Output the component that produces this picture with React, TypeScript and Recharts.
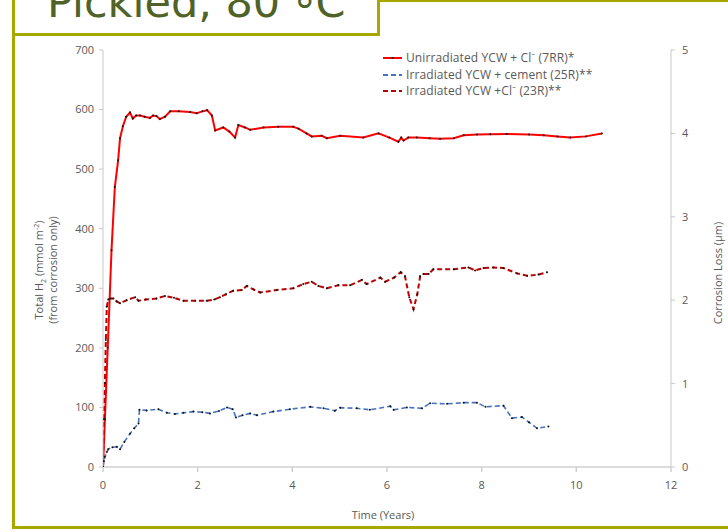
import React from 'react';
import { LineChart, Line, XAxis, YAxis, Legend } from 'recharts';

const FONT = '"Open Sans", Lato, sans-serif';
const GRAY = '#595959';
const OLIVE = '#a6a800';

const xTicks = [0, 2, 4, 6, 8, 10, 12];
const leftTicks = [0, 100, 200, 300, 400, 500, 600, 700];
const rightTicks = [0, 1, 2, 3, 4, 5];

// Unirradiated YCW + Cl- (7RR)*
const t7RR = [0, 0.04, 0.1, 0.18, 0.25, 0.32, 0.36, 0.42, 0.49, 0.57, 0.63, 0.7, 0.78, 0.88, 0.99, 1.06, 1.13, 1.2, 1.31, 1.42, 1.6, 1.84, 1.98, 2.1, 2.2, 2.3, 2.37, 2.54, 2.67, 2.79, 2.86, 3.0, 3.11, 3.39, 3.7, 4.02, 4.13, 4.3, 4.41, 4.62, 4.73, 5.01, 5.5, 5.82, 6.05, 6.24, 6.3, 6.35, 6.45, 6.63, 6.9, 7.12, 7.41, 7.62, 7.9, 8.18, 8.53, 9.0, 9.31, 9.6, 9.87, 10.2, 10.54];
const v7RR = [0, 80, 200, 364, 470, 515, 552, 572, 588, 595, 585, 590, 590, 588, 586, 590, 589, 584, 588, 597, 597, 596, 594, 597, 599, 590, 565, 570, 563, 553, 574, 570, 566, 570, 571, 571, 568, 560, 555, 556, 552, 556, 553, 560, 553, 546, 553, 548, 553, 553, 552, 551, 552, 557, 558, 558.5, 559, 558, 557, 555, 553, 555, 560];

// Irradiated YCW + cement (25R)**
const t25R = [0, 0.02, 0.04, 0.08, 0.11, 0.2, 0.29, 0.36, 0.45, 0.57, 0.66, 0.75, 0.77, 0.92, 1.17, 1.35, 1.52, 1.7, 1.91, 2.1, 2.26, 2.45, 2.62, 2.74, 2.81, 2.95, 3.11, 3.25, 3.6, 3.95, 4.38, 4.66, 4.9, 5.01, 5.36, 5.64, 6.07, 6.14, 6.42, 6.74, 6.91, 7.27, 7.62, 7.9, 8.08, 8.46, 8.64, 8.85, 9.0, 9.17, 9.41];
const v25R = [0, 10, 17, 25, 30, 33, 34, 30, 42, 56, 65, 73, 96, 95, 97, 91, 89, 91, 93, 92, 90, 94, 100, 97, 83, 87, 90, 87, 93, 97, 101, 98.5, 94.5, 99.6, 98.5, 96, 102, 96, 100, 98.5, 107, 106, 108, 108, 101, 103, 82, 84, 75, 65, 68];

// Irradiated YCW +Cl- (23R)**
const t23R = [0, 0.02, 0.04, 0.06, 0.08, 0.11, 0.16, 0.22, 0.29, 0.36, 0.5, 0.68, 0.75, 0.9, 1.13, 1.31, 1.5, 1.7, 1.95, 2.19, 2.35, 2.47, 2.6, 2.75, 2.93, 3.04, 3.18, 3.32, 3.67, 4.02, 4.23, 4.41, 4.55, 4.73, 4.97, 5.22, 5.47, 5.57, 5.86, 5.96, 6.15, 6.29, 6.38, 6.47, 6.56, 6.64, 6.7, 6.77, 6.88, 6.98, 7.41, 7.72, 7.86, 8.04, 8.25, 8.46, 8.75, 8.96, 9.2, 9.38];
const v23R = [0, 80, 141, 213, 269, 281, 283, 283, 278, 275, 280, 285, 279, 281, 283, 287, 284, 279, 279, 279, 281, 285, 290, 296, 297, 304, 298, 293, 297, 300, 307, 311, 304, 300, 305, 305, 314, 307, 318, 311, 318, 327, 320, 285, 265, 290, 320, 324, 324, 332, 332, 335, 330, 334, 335, 334, 325, 321, 323, 327];

const zip = (t: number[], v: number[]) => t.map((x, i) => ({ t: x, v: v[i] }));
const d7RR = zip(t7RR, v7RR);
const d25R = zip(t25R, v25R);
const d23R = zip(t23R, v23R);

const SERIES = [
  { key: '7RR', label: 'Unirradiated YCW + Cl\u207B (7RR)*', data: d7RR, color: '#ff0000', dash: undefined as string | undefined, width: 2 },
  { key: '25R', label: 'Irradiated YCW + cement (25R)**', data: d25R, color: '#4472c4', dash: '5 3', width: 1.6 },
  { key: '23R', label: 'Irradiated YCW +Cl\u207B (23R)**', data: d23R, color: '#c00000', dash: '5 3', width: 2 },
];

const dot = { r: 1, fill: '#111', stroke: 'none' };

const renderLegend = () => (
  <div style={{ fontFamily: FONT, fontSize: 12, letterSpacing: 0.1, color: GRAY, lineHeight: '16.5px' }}>
    {SERIES.map((s) => (
      <div key={s.key} style={{ display: 'flex', alignItems: 'center', height: 16.5 }}>
        <svg width={23} height={6} style={{ display: 'block', flex: 'none' }}>
          <line x1={0} y1={3} x2={19} y2={3} stroke={s.color} strokeWidth={2} strokeDasharray={s.dash} />
          {!s.dash && <circle cx={9.5} cy={3} r={1} fill="#111" />}
        </svg>
        <span style={{ whiteSpace: 'nowrap' }}>{s.label}</span>
      </div>
    ))}
  </div>
);

const tickStyle = { fill: GRAY, fontSize: 11, fontFamily: FONT };

export default function App() {
  return (
    <div style={{ position: 'absolute', left: 0, top: 0, width: 728, height: 532, overflow: 'hidden', background: '#fff' }}>
      {/* outer frame */}
      <div style={{ position: 'absolute', left: 12, top: -1, width: 800, height: 530, border: `3px solid ${OLIVE}`, boxSizing: 'border-box' }} />
      {/* title box */}
      <div style={{ position: 'absolute', left: 12, top: -30, width: 368, height: 66, border: `3px solid ${OLIVE}`, boxSizing: 'border-box', background: '#fff' }} />
      <div style={{ position: 'absolute', left: 0, top: 0 }}>
        <LineChart width={728} height={532} margin={{ top: 50, right: 27, bottom: 35, left: 63 }}>
          <XAxis
            type="number"
            dataKey="t"
            domain={[0, 12]}
            ticks={xTicks}
            allowDataOverflow
            height={30}
            tickSize={5}
            tickMargin={9}
            stroke="#d0d0d0"
            strokeWidth={1.5}
            tick={tickStyle}
          />
          <YAxis
            yAxisId="left"
            domain={[0, 700]}
            ticks={leftTicks}
            allowDataOverflow
            width={40}
            tickSize={4}
            tickMargin={5}
            stroke="#c8c8c8"
            tick={tickStyle}
          />
          <YAxis
            yAxisId="right"
            orientation="right"
            domain={[0, 5]}
            ticks={rightTicks}
            allowDataOverflow
            width={30}
            tickSize={4}
            tickMargin={7}
            stroke="#c8c8c8"
            tick={tickStyle}
          />
          <Legend
            layout="vertical"
            verticalAlign="middle"
            align="center"
            content={renderLegend}
            wrapperStyle={{ left: 383, top: 50, width: 260 }}
          />
          {SERIES.map((s) => (
            <Line
              key={s.key}
              yAxisId="left"
              data={s.data}
              dataKey="v"
              type="linear"
              stroke={s.color}
              strokeWidth={s.width}
              strokeDasharray={s.dash}
              dot={dot}
              activeDot={false}
              isAnimationActive={false}
            />
          ))}
        </LineChart>
      </div>
      <svg width={728} height={532} style={{ position: 'absolute', left: 0, top: 0, pointerEvents: 'none' }}>
        <text x={47} y={17} fontFamily="DejaVu Sans" fontSize={43} fill="#4f6228">
          Pickled, 80 <tspan dy={10}>°</tspan><tspan dy={-10}>C</tspan>
        </text>
        <g fontFamily={FONT} fontSize={11} fill={GRAY} textAnchor="middle">
          <text transform="translate(43,270) rotate(-90)">
            Total  H<tspan fontSize={7} dy={3}>2</tspan><tspan dy={-3}> (mmol  m</tspan><tspan fontSize={7} dy={-4}>-2</tspan><tspan dy={4}>)</tspan>
          </text>
          <text transform="translate(57,270) rotate(-90)">(from  corrosion  only)</text>
          <text transform="translate(722,273) rotate(-90)">Corrosion  Loss  (µm)</text>
          <text x={383} y={519}>Time (Years)</text>
        </g>
      </svg>
    </div>
  );
}
